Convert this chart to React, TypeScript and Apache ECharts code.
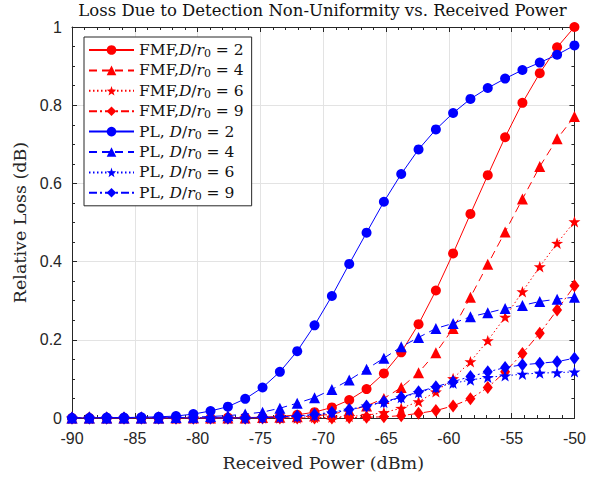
import React, { useEffect, useRef } from "react";
import * as echarts from "echarts";

const xValues = [-90, -88.62, -87.24, -85.86, -84.48, -83.1, -81.72, -80.34, -78.97, -77.59, -76.21, -74.83, -73.45, -72.07, -70.69, -69.31, -67.93, -66.55, -65.17, -63.79, -62.41, -61.03, -59.66, -58.28, -56.9, -55.52, -54.14, -52.76, -51.38, -50];

const fmf2 = [0, 0, 0, 0, 0, 0, 0, 0, 0, 0.001, 0.001, 0.002, 0.004, 0.008, 0.015, 0.027, 0.046, 0.074, 0.114, 0.168, 0.24, 0.326, 0.421, 0.522, 0.621, 0.718, 0.806, 0.882, 0.948, 1.0];
const fmf4 = [0, 0, 0, 0, 0, 0, 0, 0, 0, 0, 0, 0.001, 0.002, 0.003, 0.005, 0.01, 0.019, 0.031, 0.05, 0.078, 0.116, 0.167, 0.229, 0.309, 0.393, 0.476, 0.56, 0.643, 0.714, 0.771];
const fmf6 = [0, 0, 0, 0, 0, 0, 0, 0, 0, 0, 0, 0, 0, 0, 0.001, 0.002, 0.004, 0.007, 0.014, 0.025, 0.042, 0.067, 0.101, 0.144, 0.198, 0.258, 0.323, 0.387, 0.447, 0.502];
const fmf9 = [0, 0, 0, 0, 0, 0, 0, 0, 0, 0, 0, 0, 0, 0, 0, 0, 0.001, 0.002, 0.003, 0.006, 0.012, 0.019, 0.031, 0.049, 0.078, 0.118, 0.165, 0.217, 0.276, 0.338];
const pl2 = [0, 0, 0.001, 0.001, 0.002, 0.003, 0.005, 0.01, 0.018, 0.029, 0.049, 0.078, 0.118, 0.171, 0.237, 0.312, 0.394, 0.474, 0.553, 0.624, 0.687, 0.738, 0.78, 0.816, 0.844, 0.868, 0.89, 0.909, 0.929, 0.953];
const pl4 = [0, 0, 0, 0, 0, 0, 0.001, 0.002, 0.004, 0.006, 0.01, 0.015, 0.025, 0.038, 0.052, 0.073, 0.097, 0.125, 0.153, 0.182, 0.206, 0.229, 0.242, 0.259, 0.269, 0.28, 0.288, 0.298, 0.304, 0.309];
const pl6 = [0, 0, 0, 0, 0, 0, 0, 0, 0, 0, 0, 0.001, 0.002, 0.004, 0.007, 0.013, 0.02, 0.031, 0.04, 0.052, 0.065, 0.078, 0.089, 0.097, 0.104, 0.108, 0.112, 0.115, 0.116, 0.118];
const pl9 = [0, 0, 0, 0, 0, 0, 0, 0, 0, 0, 0, 0.001, 0.003, 0.005, 0.009, 0.015, 0.022, 0.031, 0.042, 0.053, 0.067, 0.08, 0.093, 0.106, 0.118, 0.129, 0.136, 0.14, 0.144, 0.153];

const seriesNames = ["FMF,D/r0 = 2", "FMF,D/r0 = 4", "FMF,D/r0 = 6", "FMF,D/r0 = 9", "PL, D/r0 = 2", "PL, D/r0 = 4", "PL, D/r0 = 6", "PL, D/r0 = 9"];
const legendPrefix = ["FMF,", "FMF,", "FMF,", "FMF,", "PL, ", "PL, ", "PL, ", "PL, "];
const legendRatio = ["2", "4", "6", "9", "2", "4", "6", "9"];

const STAR = "path://M0,-10L2.35,-3.24L9.51,-3.09L3.8,1.24L5.88,8.09L0,4L-5.88,8.09L-3.8,1.24L-9.51,-3.09L-2.35,-3.24Z";

const SERIF = "'DejaVu Serif', 'Liberation Serif', serif";
const SANS = "'Liberation Sans', Arial, sans-serif";

export default function App() {
  const ref = useRef<HTMLDivElement>(null);
  useEffect(() => {
    if (!ref.current) return;
    const chart = echarts.init(ref.current, null, { renderer: "svg" });
    const datas = [fmf2, fmf4, fmf6, fmf9, pl2, pl4, pl6, pl9];
    const colors = ["#ff0000", "#ff0000", "#ff0000", "#ff0000", "#0000ff", "#0000ff", "#0000ff", "#0000ff"];
    const symbols = ["circle", "triangle", STAR, "diamond", "circle", "triangle", STAR, "diamond"];
    const sizes: any[] = [10, 11, 12, [10, 13], 10, 11, 12, [10, 13]];
    const dashes: any[] = ["solid", [8, 5], [1.5, 2.5], [8, 3, 2, 3], "solid", [8, 5], [1.5, 2.5], [8, 3, 2, 3]];
    const series = datas.map((d, k) => ({
      name: seriesNames[k],
      type: "line",
      xAxisIndex: 0,
      yAxisIndex: 0,
      data: d.map((v, i) => [xValues[i], v]),
      symbol: symbols[k],
      symbolSize: sizes[k],
      symbolKeepAspect: true,
      showSymbol: true,
      color: colors[k],
      itemStyle: { color: colors[k] },
      lineStyle: { color: colors[k], width: 1, type: dashes[k] },
      z: 2 + k,
    }));
    const axisColor = "#262626";
    chart.setOption({
      animation: false,
      backgroundColor: "#ffffff",
      graphic: [
        {
          type: "text",
          x: 322.5,
          y: 2,
          style: {
            text: "Loss Due to Detection Non-Uniformity vs. Received Power",
            font: `16.5px ${SERIF}`,
            textAlign: "center",
            align: "center",
            textVerticalAlign: "top",
            verticalAlign: "top",
            fill: "#111",
          },
        },
      ],
      grid: { left: 72, right: 14, top: 27, bottom: 62 },
      legend: {
        orient: "vertical",
        left: 84,
        top: 37,
        backgroundColor: "#fff",
        borderColor: axisColor,
        borderWidth: 1,
        padding: [4, 8, 4, 4],
        itemWidth: 45,
        itemHeight: 12,
        itemGap: 2.4,
        data: seriesNames,
        formatter: (name: string) => {
          const k = seriesNames.indexOf(name);
          return `{n|${legendPrefix[k]}}{i|D}{n|/}{i|r}{s|0}{n| = ${legendRatio[k]}}`;
        },
        textStyle: {
          fontFamily: SERIF,
          fontSize: 15.5,
          lineHeight: 18,
          color: "#111",
          rich: {
            n: { fontFamily: SERIF, fontSize: 15.5, lineHeight: 18, color: "#111" },
            i: { fontFamily: SERIF, fontSize: 15.5, lineHeight: 18, fontStyle: "italic", color: "#111" },
            s: { fontFamily: SERIF, fontSize: 11, lineHeight: 12, verticalAlign: "bottom", color: "#111" },
          },
        },
      },
      xAxis: [
        {
          type: "value",
          position: "bottom",
          min: -90,
          max: -50,
          interval: 5,
          name: "Received Power (dBm)",
          nameLocation: "middle",
          nameGap: 36,
          nameTextStyle: { fontFamily: SERIF, fontSize: 17.5, color: axisColor },
          axisLine: { show: true, onZero: false, lineStyle: { color: axisColor, width: 1 } },
          axisTick: { show: true, inside: true, length: 5, lineStyle: { color: axisColor } },
          minorTick: { show: true, splitNumber: 5, length: 3, lineStyle: { color: axisColor } },
          splitLine: { show: true, lineStyle: { color: "#e3e3e3", width: 1 } },
          axisLabel: { fontFamily: SANS, fontSize: 16, color: axisColor, margin: 12 },
        },
        {
          type: "value",
          position: "top",
          min: -90,
          max: -50,
          interval: 5,
          axisLine: { show: true, onZero: false, lineStyle: { color: axisColor, width: 1 } },
          axisTick: { show: true, inside: true, length: 5, lineStyle: { color: axisColor } },
          minorTick: { show: true, splitNumber: 5, length: 3, lineStyle: { color: axisColor } },
          splitLine: { show: false },
          axisLabel: { show: false },
        },
      ],
      yAxis: [
        {
          type: "value",
          position: "left",
          min: 0,
          max: 1,
          interval: 0.2,
          name: "Relative Loss (dB)",
          nameLocation: "middle",
          nameGap: 42,
          nameRotate: 90,
          nameTextStyle: { fontFamily: SERIF, fontSize: 17.5, color: axisColor },
          axisLine: { show: true, onZero: false, lineStyle: { color: axisColor, width: 1 } },
          axisTick: { show: true, inside: true, length: 5, lineStyle: { color: axisColor } },
          minorTick: { show: true, splitNumber: 4, length: 3, lineStyle: { color: axisColor } },
          splitLine: { show: true, lineStyle: { color: "#e3e3e3", width: 1 } },
          axisLabel: { fontFamily: SANS, fontSize: 16, color: axisColor, margin: 10 },
        },
        {
          type: "value",
          position: "right",
          min: 0,
          max: 1,
          interval: 0.2,
          axisLine: { show: true, onZero: false, lineStyle: { color: axisColor, width: 1 } },
          axisTick: { show: true, inside: true, length: 5, lineStyle: { color: axisColor } },
          minorTick: { show: true, splitNumber: 4, length: 3, lineStyle: { color: axisColor } },
          splitLine: { show: false },
          axisLabel: { show: false },
        },
      ],
      series,
    });
    return () => chart.dispose();
  }, []);
  return <div ref={ref} style={{ width: 589, height: 480, position: "absolute", left: 0, top: 0 }} />;
}
